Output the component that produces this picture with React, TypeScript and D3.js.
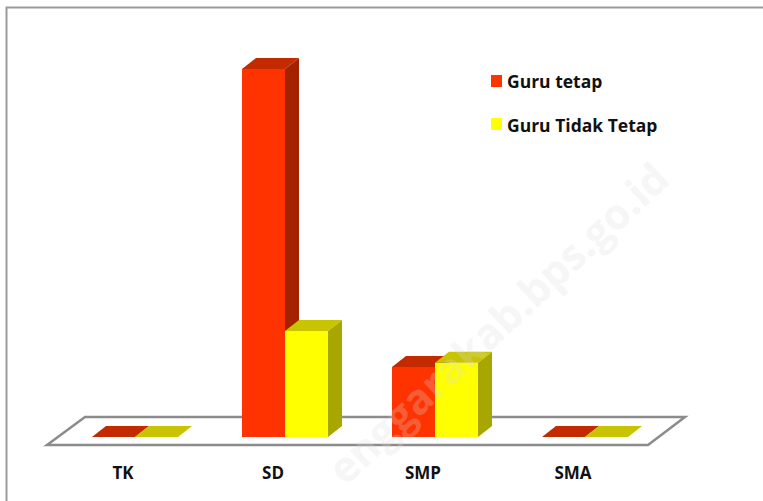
import { useEffect, useRef } from 'react'
import * as d3 from 'd3'

// Jumlah guru per jenjang pendidikan
const categories = ['TK', 'SD', 'SMP', 'SMA']
const seriesNames = ['Guru tetap', 'Guru Tidak Tetap']
const guruTetap = [0, 1250, 238, 0]
const guruTidakTetap = [0, 360, 252, 0]

const palette = [
  { front: '#ff3300', top: '#c42a00', side: '#a32200' },
  { front: '#ffff00', top: '#c8c400', side: '#a8a600' },
]

export default function App() {
  const svgRef = useRef<SVGSVGElement | null>(null)
  const width = 763
  const height = 501

  useEffect(() => {
    if (!svgRef.current) return
    const svg = d3.select(svgRef.current)
    svg.selectAll('*').remove()

    const font = '"Open Sans", "DejaVu Sans", sans-serif'
    const baseY = 437
    const dx = 14
    const dy = 11

    // frame
    svg.append('rect')
      .attr('x', 6.5).attr('y', 7.5)
      .attr('width', 800).attr('height', 600)
      .attr('fill', '#fff')
      .attr('stroke', '#9a9a9a')
      .attr('stroke-width', 2)

    // floor
    const floor = [[47, 445], [85, 417], [685, 417], [648, 445]]
    svg.append('polygon')
      .attr('points', floor.map(p => p.join(',')).join(' '))
      .attr('fill', '#fff')
      .attr('stroke', '#8c8c8c')
      .attr('stroke-width', 2.5)

    const x = d3.scaleBand().domain(categories).range([60, 660])
    const xInner = d3.scaleBand().domain(seriesNames).range([0, x.bandwidth()]).paddingOuter(0.744)
    const y = d3.scaleLinear().domain([0, 1250]).range([baseY, 69])

    const rows = categories.map((c, i) => ({ c, values: [guruTetap[i], guruTidakTetap[i]] }))

    rows.forEach(row => {
      row.values.forEach((v, si) => {
        const x0 = (x(row.c) ?? 0) + (xInner(seriesNames[si]) ?? 0)
        const w = xInner.bandwidth()
        const yTop = y(v)
        const col = palette[si]
        const g = svg.append('g')
        if (baseY - yTop > 0.5) {
          g.append('polygon')
            .attr('points', [[x0 + w, yTop], [x0 + w + dx, yTop - dy], [x0 + w + dx, baseY - dy], [x0 + w, baseY]].map(p => p.join(',')).join(' '))
            .attr('fill', col.side)
          g.append('rect')
            .attr('x', x0).attr('y', yTop)
            .attr('width', w).attr('height', baseY - yTop)
            .attr('fill', col.front)
        }
        g.append('polygon')
          .attr('points', [[x0, yTop], [x0 + dx, yTop - dy], [x0 + w + dx, yTop - dy], [x0 + w, yTop]].map(p => p.join(',')).join(' '))
          .attr('fill', col.top)
      })
    })

    // category labels
    svg.append('g')
      .selectAll('text')
      .data(categories)
      .enter()
      .append('text')
      .attr('x', d => (x(d) ?? 0) + x.bandwidth() / 2 - 12)
      .attr('y', 479)
      .attr('text-anchor', 'middle')
      .attr('font-family', font)
      .attr('font-weight', 'bold')
      .attr('font-size', 17)
      .attr('fill', '#111')
      .text(d => d)

    // legend
    const legend = svg.append('g')
    seriesNames.forEach((name, i) => {
      legend.append('rect')
        .attr('x', 491).attr('y', 75 + i * 43)
        .attr('width', 11).attr('height', 12)
        .attr('fill', palette[i].front)
      legend.append('text')
        .attr('x', 507).attr('y', 88 + i * 44)
        .attr('font-family', font)
        .attr('font-weight', 'bold')
        .attr('font-size', 17.5)
        .attr('fill', '#111')
        .text(name)
    })

    // watermark
    svg.append('text')
      .attr('transform', 'translate(672,182) rotate(-43)')
      .attr('text-anchor', 'end')
      .attr('font-family', font)
      .attr('font-weight', 'bold')
      .attr('font-size', 42)
      .attr('fill', '#dcdcdc')
      .attr('opacity', 0.25)
      .text('enggarakab.bps.go.id')
  }, [])

  return (
    <div style={{ position: 'absolute', left: 0, top: 0 }}>
      <svg ref={svgRef} width={width} height={height} style={{ display: 'block' }} />
    </div>
  )
}
